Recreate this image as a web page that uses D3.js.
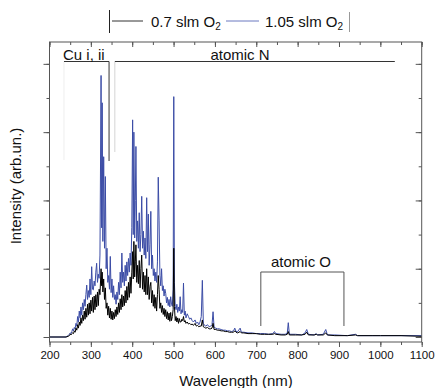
<!DOCTYPE html>
<html>
<head>
<meta charset="utf-8">
<script src="https://cdn.jsdelivr.net/npm/d3@7"></script>
<style>
	body { margin: 0; background: #fff; }
	text { font-family: Arial, "Liberation Sans", sans-serif; }
</style>
</head>
<body>
<div id="box"></div>
<script>
// wavelength grid (nm) shared by both spectra
const wavelength = [
	200, 240, 245, 248, 250, 252, 254, 256, 258, 260, 262, 264, 266, 268, 270, 272, 274, 276, 278, 280,
	282, 284, 286, 288, 290, 292, 294, 296, 298, 300, 302, 304, 306, 308, 310, 312, 314, 316, 318, 320,
	322, 324.7, 326, 327.4, 329, 331, 333, 335, 337, 339, 341, 343, 345, 347, 349, 351, 353, 355, 357, 359,
	361, 363, 365, 367, 369, 371, 373, 375, 377, 379, 381, 383, 385, 387, 389, 391, 393, 395, 397, 399,
	401, 402.5, 404, 406, 407.5, 409, 411, 413, 415, 417, 419, 421, 423, 425, 427, 429, 431, 433, 435, 437,
	439, 441, 443, 445, 447, 449, 451, 453, 455, 457, 459, 461, 463, 465, 467, 469, 471, 473, 475, 477,
	479, 481, 483, 485, 487, 489, 491, 493, 495, 497, 499, 500.5, 502, 504, 506, 508, 510, 512, 514, 516,
	518, 520, 522, 524, 526, 528, 530, 533, 536, 539, 542, 545, 548, 552, 555, 558, 561, 564, 567, 569.6,
	572, 575, 578, 582, 586, 590, 593, 595.5, 598, 602, 606, 610, 615, 620, 625, 630, 635, 640, 645, 648,
	651, 655, 661, 664, 670, 680, 690, 700, 710, 720, 730, 740, 744, 747, 760, 770, 775, 777.4, 780, 795,
	810, 818, 822, 826, 840, 845, 848, 862, 868, 872, 890, 920, 940, 945, 980, 1000, 1050, 1100,
];

// 0.7 slm O2 (black)
const slm07 = [
	0, 0, 0.01, 0.02, 0.04, 0.03, 0.05, 0.06, 0.05, 0.09, 0.07, 0.13, 0.10, 0.18, 0.13, 0.22, 0.17, 0.28, 0.20, 0.32,
	0.24, 0.38, 0.26, 0.42, 0.29, 0.48, 0.32, 0.50, 0.34, 0.54, 0.38, 0.58, 0.36, 0.60, 0.40, 0.62, 0.44, 0.66, 0.46, 0.70,
	0.62, 1.00, 0.75, 0.95, 0.66, 0.85, 0.55, 0.72, 0.42, 0.50, 0.32, 0.45, 0.28, 0.42, 0.26, 0.38, 0.25, 0.36, 0.27, 0.40,
	0.30, 0.44, 0.33, 0.50, 0.36, 0.56, 0.40, 0.62, 0.44, 0.60, 0.46, 0.68, 0.50, 0.74, 0.54, 0.80, 0.58, 0.88, 0.64, 0.95,
	1.25, 0.85, 1.40, 0.88, 1.10, 1.35, 0.80, 1.05, 0.78, 1.12, 0.72, 1.00, 1.20, 0.70, 0.95, 0.66, 0.90, 0.62, 1.00, 0.62,
	0.88, 0.55, 0.74, 0.80, 0.50, 0.68, 0.45, 0.62, 0.42, 0.58, 0.38, 0.62, 0.90, 0.70, 0.42, 0.50, 0.36, 0.46, 0.33, 0.42,
	0.30, 0.40, 0.27, 0.37, 0.25, 0.35, 0.23, 0.36, 0.24, 0.30, 0.40, 1.30, 0.45, 0.24, 0.30, 0.22, 0.28, 0.20, 0.27, 0.22,
	0.22, 0.26, 0.24, 0.30, 0.22, 0.24, 0.20, 0.22, 0.19, 0.20, 0.18, 0.19, 0.17, 0.20, 0.16, 0.17, 0.15, 0.16, 0.16, 0.25,
	0.15, 0.14, 0.13, 0.14, 0.12, 0.12, 0.13, 0.20, 0.11, 0.11, 0.10, 0.10, 0.09, 0.09, 0.08, 0.08, 0.07, 0.07, 0.07, 0.09,
	0.07, 0.06, 0.08, 0.06, 0.06, 0.05, 0.05, 0.05, 0.04, 0.04, 0.04, 0.04, 0.05, 0.04, 0.03, 0.03, 0.04, 0.08, 0.03, 0.03,
	0.03, 0.04, 0.07, 0.03, 0.03, 0.04, 0.03, 0.03, 0.06, 0.03, 0.02, 0.02, 0.03, 0.02, 0.02, 0.02, 0.02, 0.01,
];

// 1.05 slm O2 (blue)
const slm105 = [
	0, 0, 0.02, 0.04, 0.06, 0.05, 0.08, 0.12, 0.09, 0.14, 0.12, 0.20, 0.16, 0.30, 0.22, 0.38, 0.28, 0.44, 0.32, 0.50,
	0.40, 0.55, 0.45, 0.62, 0.76, 0.55, 0.68, 0.58, 0.85, 0.62, 1.03, 0.70, 0.69, 0.82, 0.75, 0.95, 1.08, 0.80, 0.92, 0.86,
	1.20, 3.83, 1.60, 3.43, 1.40, 2.64, 1.30, 2.35, 1.00, 1.30, 0.80, 0.90, 0.70, 1.18, 0.65, 0.85, 0.58, 0.75, 0.55, 0.62,
	0.48, 0.66, 0.55, 0.80, 0.62, 0.95, 0.72, 1.23, 0.80, 0.95, 0.75, 1.05, 0.82, 1.10, 0.90, 1.15, 0.95, 1.23, 1.05, 1.60,
	3.18, 1.50, 3.00, 1.45, 2.00, 2.79, 1.40, 1.70, 1.30, 1.82, 1.25, 1.50, 2.06, 1.30, 1.55, 1.20, 1.45, 1.15, 2.04, 1.25,
	1.80, 1.05, 1.35, 1.84, 1.00, 1.20, 0.90, 1.00, 0.82, 0.95, 0.80, 1.10, 2.34, 1.70, 0.90, 0.75, 1.00, 0.68, 0.75, 0.60,
	0.70, 0.64, 0.50, 0.58, 0.46, 0.55, 0.44, 0.59, 0.48, 0.45, 0.70, 3.52, 0.80, 0.45, 0.40, 0.48, 0.36, 0.44, 0.38, 0.59,
	0.34, 0.40, 0.36, 0.79, 0.32, 0.38, 0.28, 0.34, 0.30, 0.26, 0.28, 0.24, 0.22, 0.25, 0.20, 0.22, 0.18, 0.22, 0.30, 0.83,
	0.20, 0.17, 0.16, 0.18, 0.15, 0.16, 0.18, 0.37, 0.14, 0.13, 0.12, 0.12, 0.11, 0.10, 0.10, 0.09, 0.09, 0.08, 0.09, 0.13,
	0.08, 0.08, 0.13, 0.07, 0.07, 0.06, 0.06, 0.05, 0.05, 0.05, 0.04, 0.05, 0.08, 0.05, 0.04, 0.04, 0.06, 0.21, 0.04, 0.04,
	0.03, 0.06, 0.11, 0.04, 0.03, 0.05, 0.03, 0.04, 0.11, 0.03, 0.03, 0.02, 0.04, 0.02, 0.02, 0.02, 0.02, 0.02,
];

const xTicks = [200, 300, 400, 500, 600, 700, 800, 900, 1000, 1100];

// annotation brackets: [label, from nm, to nm]
const brackets = [
	['Cu i, ii', 235, 344],
	['atomic N', 358, 1035],
	['atomic O', 711, 912],
];

const legendLabels = ['0.7 slm O', '1.05 slm O'];
const colors = ['#000000', '#3b4ca6'];

const width = 436;
const height = 388;
const marginTop = 42;
const marginRight = 14.3;
const marginBottom = 46;
const marginLeft = 49.5;

const xScale = d3.scaleLinear([200, 1100], [marginLeft, width - marginRight]);
const yScale = d3.scaleLinear([-0.073, 4.32], [height - marginBottom, marginTop]);

const svg = d3.select('#box').append('svg')
	.attr('width', width)
	.attr('height', height)
	.attr('viewBox', [0, 0, width, height]);

svg.append('rect')
	.attr('width', width)
	.attr('height', height)
	.attr('fill', '#fff');

const axisColor = '#555';
const minorX = d3.range(200, 1101, 50);
const minorY = d3.range(0, 4.3, 0.5);

const styleAxis = g => {
	g.select('.domain').remove();
	g.selectAll('.tick line').attr('stroke', axisColor);
	g.selectAll('.tick text').attr('fill', '#111').attr('font-size', '11.5px')
		.attr('font-family', 'Arial, "Liberation Sans", sans-serif');
};

// minor ticks first, then majors on top
svg.append('g')
	.attr('transform', `translate(0,${height - marginBottom})`)
	.call(d3.axisBottom(xScale).tickValues(minorX).tickSize(3).tickFormat(''))
	.call(styleAxis);
svg.append('g')
	.attr('transform', `translate(0,${height - marginBottom})`)
	.call(d3.axisBottom(xScale).tickValues(xTicks).tickSize(5).tickPadding(4).tickFormat(d3.format('d')))
	.call(styleAxis);

svg.append('g')
	.attr('transform', `translate(0,${marginTop})`)
	.call(d3.axisBottom(xScale).tickValues(minorX).tickSize(3).tickFormat(''))
	.call(styleAxis);
svg.append('g')
	.attr('transform', `translate(0,${marginTop})`)
	.call(d3.axisBottom(xScale).tickValues(xTicks).tickSize(5).tickFormat(''))
	.call(styleAxis);

svg.append('g')
	.attr('transform', `translate(${marginLeft},0)`)
	.call(d3.axisLeft(yScale).tickValues(minorY).tickSize(3).tickFormat(''))
	.call(styleAxis);
svg.append('g')
	.attr('transform', `translate(${marginLeft},0)`)
	.call(d3.axisLeft(yScale).tickValues([0, 1, 2, 3, 4]).tickSize(6).tickFormat(''))
	.call(styleAxis);

svg.append('g')
	.attr('transform', `translate(${width - marginRight},0)`)
	.call(d3.axisLeft(yScale).tickValues(minorY).tickSize(3).tickFormat(''))
	.call(styleAxis);
svg.append('g')
	.attr('transform', `translate(${width - marginRight},0)`)
	.call(d3.axisLeft(yScale).tickValues([0, 1, 2, 3, 4]).tickSize(6).tickFormat(''))
	.call(styleAxis);

// spectra, blue underneath, black on top
const line = d3.line()
	.x(d => xScale(d[0]))
	.y(d => yScale(d[1]));

[slm105, slm07].forEach((vals, k) => {
	svg.append('path')
		.attr('fill', 'none')
		.attr('stroke', k === 0 ? colors[1] : colors[0])
		.attr('stroke-width', 1)
		.attr('stroke-linejoin', 'miter')
		.attr('d', line(wavelength.map((w, i) => [w, vals[i]])));
});

svg.append('rect')
	.attr('x', marginLeft)
	.attr('y', marginTop)
	.attr('width', width - marginLeft - marginRight)
	.attr('height', height - marginTop - marginBottom)
	.attr('fill', 'none')
	.attr('stroke', axisColor)
	.attr('stroke-width', 1);

// brackets
const ann = svg.append('g').attr('fill', 'none');
const cu = brackets[0];
const n = brackets[1];
const o = brackets[2];

ann.append('path')
	.attr('stroke', '#333')
	.attr('d', `M${xScale(cu[1])},61.5H${xScale(cu[2])}V161`);
ann.append('line')
	.attr('stroke', '#eee')
	.attr('x1', xScale(cu[1])).attr('x2', xScale(cu[1]))
	.attr('y1', 62).attr('y2', 160);
ann.append('line')
	.attr('stroke', '#333')
	.attr('x1', xScale(n[1])).attr('x2', xScale(n[2]))
	.attr('y1', 61.5).attr('y2', 61.5);
ann.append('line')
	.attr('stroke', '#d4d4d4')
	.attr('x1', xScale(n[1])).attr('x2', xScale(n[1]))
	.attr('y1', 62).attr('y2', 152);
ann.append('path')
	.attr('stroke', '#555')
	.attr('d', `M${xScale(o[1])},326V272H${xScale(o[2])}V326`);

const label = (x, y, t, anchor) => svg.append('text')
	.attr('x', x)
	.attr('y', y)
	.attr('font-size', '15px')
	.attr('fill', '#111')
	.attr('text-anchor', anchor)
	.text(t);

label(xScale(cu[1]) - 1, 60, cu[0], 'start');
label(240, 60, n[0], 'middle');
label(301, 267, o[0], 'middle');

// legend
const leg = svg.append('g');
leg.append('line').attr('stroke', '#222')
	.attr('x1', 109.5).attr('x2', 109.5).attr('y1', 10).attr('y2', 33);
leg.append('line').attr('stroke', '#999')
	.attr('x1', 349.5).attr('x2', 349.5).attr('y1', 12).attr('y2', 32);

const legItems = [[112, 143, 151], [226, 259, 265]];
legItems.forEach((p, i) => {
	leg.append('line')
		.attr('stroke', i ? '#6a78c0' : '#333')
		.attr('x1', p[0]).attr('x2', p[1])
		.attr('y1', 21).attr('y2', 21);
	const t = leg.append('text')
		.attr('x', p[2])
		.attr('y', 26.5)
		.attr('font-size', '15px')
		.attr('fill', '#111');
	t.append('tspan').text(legendLabels[i]);
	t.append('tspan').attr('font-size', '10px').attr('dy', 3).text('2');
});

// axis titles
svg.append('text')
	.attr('x', 236)
	.attr('y', 386)
	.attr('text-anchor', 'middle')
	.attr('font-size', '15px')
	.attr('fill', '#111')
	.text('Wavelength (nm)');

svg.append('text')
	.attr('transform', `translate(21,186) rotate(-90)`)
	.attr('text-anchor', 'middle')
	.attr('font-size', '15px')
	.attr('fill', '#111')
	.text('Intensity (arb.un.)');
</script>
</body>
</html>
